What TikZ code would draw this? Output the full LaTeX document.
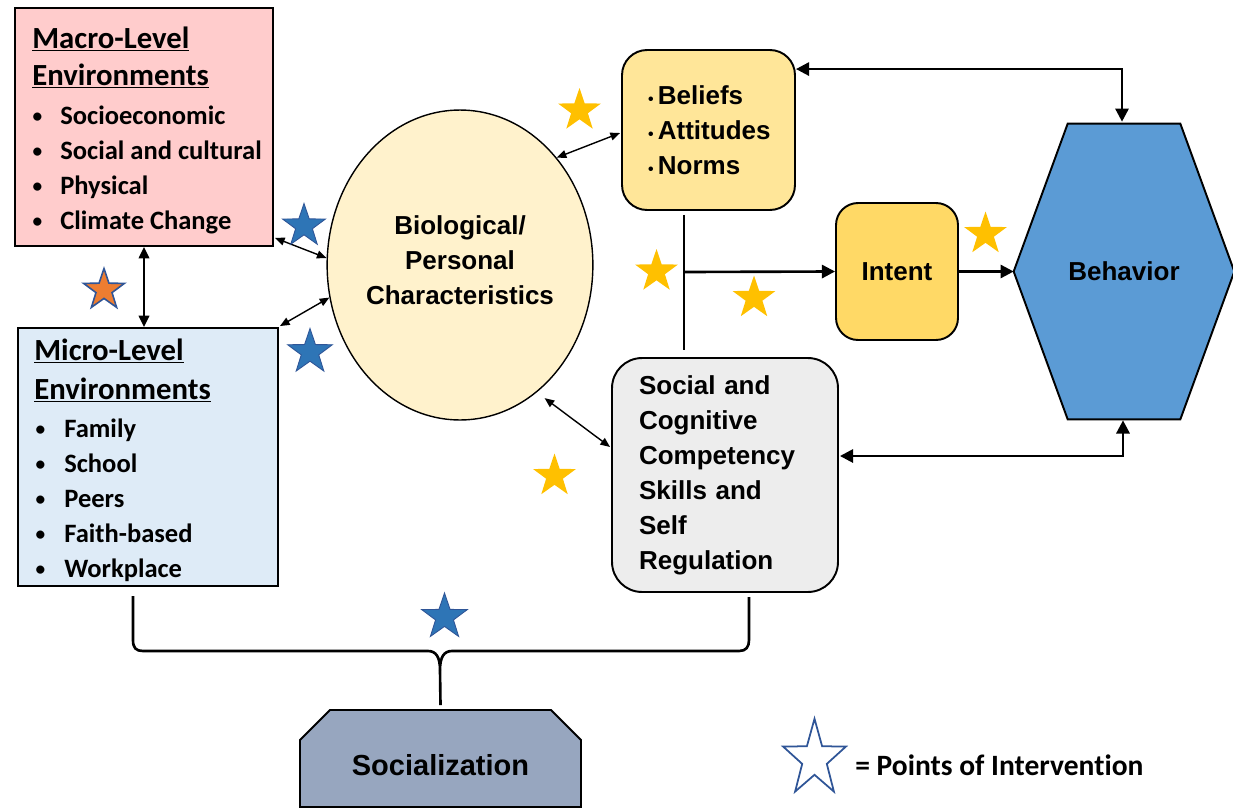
\documentclass[tikz,border=0pt]{standalone}
\usepackage{fontspec}
\setmainfont{Liberation Sans}
\newfontfamily\calib[Ligatures=NoCommon]{Carlito}
\usetikzlibrary{
    arrows.meta,
    shapes.geometric,
    shapes.misc,
    calc,
    positioning,
    backgrounds
}
\definecolor{macropink}{HTML}{FFCCCC}
\definecolor{microblue}{HTML}{DEEBF7}
\definecolor{bioyellow}{HTML}{FFF2CC}
\definecolor{beliefyellow}{HTML}{FFE699}
\definecolor{intentyellow}{HTML}{FFD966}
\definecolor{socialgrey}{HTML}{EDEDED}
\definecolor{behblue}{HTML}{5B9BD5}
\definecolor{socgrey}{HTML}{97A6BF}
\definecolor{staryellow}{HTML}{FFC000}
\definecolor{starblue}{HTML}{2E75B6}
\definecolor{starline}{HTML}{2F5597}
\definecolor{starorange}{HTML}{ED7D31}
\newcommand{\smallbul}{{\fontsize{9}{9}\selectfont\textbullet}\,}
\newcommand{\envbul}[1]{\llap{\raisebox{0.04cm}{\fontsize{11}{11}\selectfont\textbullet}\hspace{#1}}}

\begin{document}
\begin{tikzpicture}[x=0.02cm, y=-0.02cm,
    box/.style={draw, line width=1.1pt},
    rbox/.style={box, rounded corners=#1},
    arial/.style={font=\fontsize{14.8}{19.9}\selectfont\bfseries},
    calttl/.style={anchor=base west, inner sep=0pt, font=\calib\fontsize{17.5}{20}\selectfont\bfseries},
    calitem/.style={anchor=base west, inner sep=0pt, font=\calib\fontsize{15.1}{19.9}\selectfont\bfseries},
    thickline/.style={line width=1.5pt, >={Triangle[length=7.5pt,width=7.5pt]}},
    medarr/.style={line width=1.1pt, >={Triangle[length=6.5pt,width=6pt]}},
    thinarr/.style={line width=0.8pt, >={Triangle[length=5.5pt,width=4.5pt]}},
    pstar/.style={star, star points=5, star point ratio=2.55, inner sep=0pt, minimum size=#1},
    ystar/.style={pstar=0.9cm, fill=staryellow},
    bstar/.style={pstar=0.9cm, fill=starblue, draw=starline, line width=0.5pt},
    ostar/.style={pstar=0.86cm, fill=starorange, draw=starline, line width=0.9pt}
]
\path[use as bounding box] (0,0) rectangle (1233,808);

% environments
\node[box, fill=macropink, minimum width=5.16cm, minimum height=4.76cm] (macro) at (144,127) {};
\node[calttl] (macro1) at (32,48) {\underline{Macro-Level}};
\node[calttl] (macro2) at (32,85) {\underline{Environments}};
\foreach \t [count=\i] in {Socioeconomic, Social and cultural, Physical, Climate Change}
    \node[calitem] (macroitem\i) at (60, 88.7+35.3*\i) {\envbul{0.36cm}\t};

\node[box, fill=microblue, minimum width=5.2cm, minimum height=5.16cm] (micro) at (148,457) {};
\node[calttl] (micro1) at (34,360) {\underline{Micro-Level}};
\node[calttl] (micro2) at (34,399) {\underline{Environments}};
\foreach \t [count=\i] in {Family, School, Peers, Faith-based, Workplace}
    \node[calitem] (microitem\i) at (64, 402+35*\i) {\envbul{0.38cm}\t};

% person and behaviour
\node[draw, line width=0.8pt, ellipse, fill=bioyellow, inner sep=0pt, minimum width=5.28cm,
    minimum height=6.2cm, text depth=0.2cm, arial, align=center] (bio) at (460,265) {Biological/\\Personal\\Characteristics};
\node[rbox=0.5cm, fill=beliefyellow, minimum width=3.46cm, minimum height=3.2cm, text width=2.42cm,
    inner xsep=0.52cm, align=left, arial] (beliefs) at (708.5,130) {\smallbul Beliefs\\\smallbul Attitudes\\\smallbul Norms};
\node[rbox=0.44cm, fill=intentyellow, minimum width=2.44cm, minimum height=2.74cm, arial] (intent) at (897,271.5) {Intent};
\node[minimum width=4.4cm, minimum height=5.9cm, arial] (behavior) at (1124,271.5) {Behavior};
\begin{scope}[on background layer]
    \draw[box, fill=behblue] (behavior.west) -- ($(behavior.north west)+(54,0)$) -- ($(behavior.north east)+(-54,0)$)
        -- (behavior.east) -- ($(behavior.south east)+(-54,0)$) -- ($(behavior.south west)+(54,0)$) -- cycle;
\end{scope}
\node[rbox=0.6cm, fill=socialgrey, minimum width=4.52cm, minimum height=4.68cm, text width=3.44cm,
    inner xsep=0.54cm, align=left, arial] (social) at (725,475) {Social and\\Cognitive\\Competency\\Skills and\\Self\\Regulation};
\node[box, chamfered rectangle, chamfered rectangle corners={north west,north east},
    chamfered rectangle xsep=0.3cm, chamfered rectangle ysep=0.3cm, fill=socgrey,
    minimum width=5.62cm, minimum height=1.94cm, text height=0.66cm, text depth=0pt,
    font=\fontsize{16.5}{20}\selectfont\bfseries] (socialization) at (440.5,758.5) {Socialization};

% connectors
\draw[medarr, <->] (macro.south) -- (macro.south |- micro.north);
\draw[thinarr, <->] ($(macro.south east)+(1,-9)$) -- (bio.177);
\draw[thinarr, <->] ($(micro.north east)+(1,-1)$) -- (bio.194);
\draw[thinarr, <->] (bio.48) -- ($(beliefs.west)+(-1,3)$);
\draw[thinarr, <->] ($(bio.303)+(4,9)$) -- ($(social.west)+(-1,-28)$);

\coordinate (split) at (684,272);
\draw[thickline] ($(split |- beliefs.south)+(0,4)$) -- ($(split |- social.north)+(0,-7)$);
\draw[thickline, ->] (split) -- (intent.west);
\draw[thickline, ->] (intent.east) -- (behavior.west);
\draw[thickline, <->] ($(beliefs.north east)+(0,20)$) -| ($(behavior.north)+(-2,-2)$);
\draw[thickline, <->] ($(social.east)+(1,-19)$) -| ($(behavior.south)+(-1,1)$);

% brace to socialization
\coordinate (bracel) at (133,596);
\coordinate (bracer) at (749,597);
\coordinate (bracetip) at (440,670);
\draw[thickline] (bracel) -- (133,640) .. controls (133,648) and (136,651) .. (143,651) -- (428,651)
    .. controls (436,651) and (440,657) .. (bracetip) .. controls (440,657) and (444,651) .. (452,651)
    -- (739,651) .. controls (746,651) and (749,647) .. (749,640) -- (bracer);
\draw[thickline] (bracetip) -- ($(socialization.north)+(0,-4)$);

% points of intervention
\node[ystar] (sbeliefs) at (579.5,110.5) {};
\node[ystar] (ssplit) at (656.5,271.5) {};
\node[ystar] (sintent) at (754,298) {};
\node[ystar] (sbehav) at (985.5,234) {};
\node[ystar] (ssocial) at (554.5,476) {};
\node[bstar] (smacro) at (304,226) {};
\node[bstar, minimum size=0.94cm] (smicro) at (310,352) {};
\node[bstar, minimum size=0.96cm] (ssocialize) at (444.5,617) {};
\node[ostar] (senv) at (104,290) {};

% legend
\begin{scope}[shift={(814.5,759)}, yscale=1.22]
    \node[pstar=1.32cm, draw=starline, line width=1pt, transform shape] (legendstar) at (0,0) {};
\end{scope}
\node[calitem, font=\calib\fontsize{16.8}{19}\selectfont\bfseries] (legendtxt) at (855,775) {= Points of Intervention};
\end{tikzpicture}
\end{document}
